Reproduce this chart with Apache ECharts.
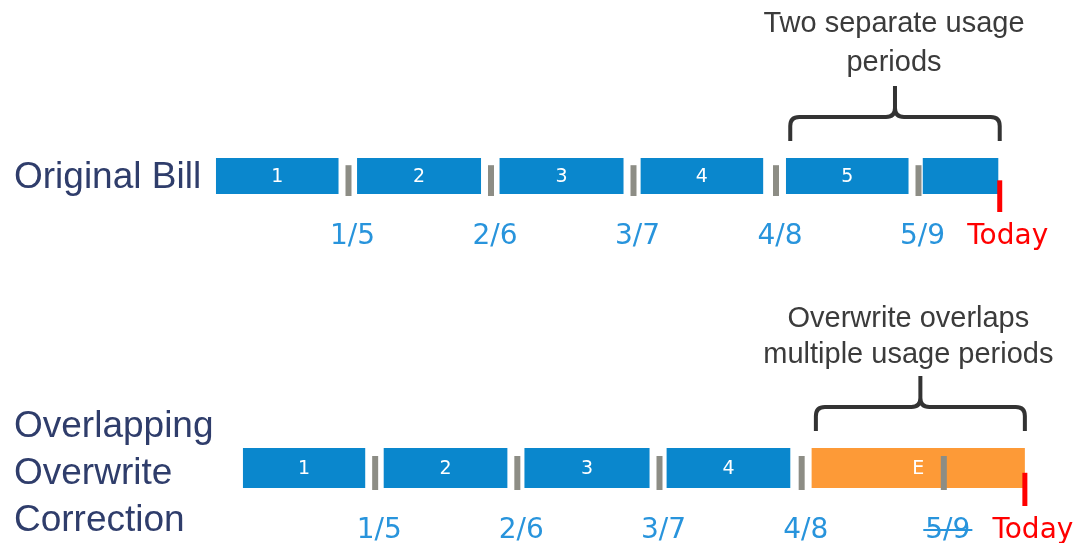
<!DOCTYPE html>
<html>
<head>
<meta charset="utf-8">
<title>Overlapping overwrite correction</title>
<script src="https://cdn.jsdelivr.net/npm/echarts@6/dist/echarts.min.js"></script>
<style>
html, body { margin: 0; padding: 0; background: #fff; }
#timeline { width: 1088px; height: 543px; }
</style>
</head>
<body>
<div id="timeline"></div>
<script>
// x is measured in bill cycles: 1..5 are the read dates
var billDates = ['1/5', '2/6', '3/7', '4/8', '5/9'];
var billBoundaries = [1, 2, 3, 4, 5];
var today = 5.57;

var originalLabels = ['1', '2', '3', '4', '5', ''];
var originalStarts = [0.07, 1.06, 2.06, 3.05, 4.07, 5.03];
var originalEnds   = [0.93, 1.93, 2.93, 3.91, 4.93, 5.56];

var correctedLabels = ['1', '2', '3', '4'];
var correctedStarts = [0.07, 1.06, 2.05, 3.05];
var correctedEnds   = [0.93, 1.93, 2.93, 3.92];

var overwriteLabels = ['E'];
var overwriteStarts = [4.07];
var overwriteEnds   = [5.57];

// read dates crossed out on the corrected bill
var voidedDates = ['5/9'];

var braceSpans = [[4.1, 5.57], [4.1, 5.57]];
var braceNotes = ['Two separate usage\nperiods', 'Overwrite overlaps\nmultiple usage periods'];
var rowTitles = ['Original Bill', 'Overlapping\nOverwrite\nCorrection'];

var BLUE = '#0a87cd', ORANGE = '#fd9a37', GREY = '#8d8d85', RED = '#ff0000';
var DATE_BLUE = '#2894dc';
var DATE_FONT = '28px "DejaVu Sans"';
var TITLE_FONT = '37px "Liberation Sans"';
var NOTE_FONT = '29px "Liberation Sans"';
// note placement relative to the brace tip, per row
var noteLayout = [{ dx: -1, dy: -74, lh: 39 }, { dx: -12, dy: -70, lh: 36 }];

var measureCtx = document.createElement('canvas').getContext('2d');
function textWidth(text, font) {
    measureCtx.font = font;
    return measureCtx.measureText(text).width;
}

function spans(starts, ends) {
    return starts.map(function (s, i) { return [s, ends[i]]; });
}

function textEl(text, x, y, fill, font, extra) {
    var style = {
        text: text, x: x, y: y, fill: fill, font: font,
        align: 'center', verticalAlign: 'middle',
        textAlign: 'center', textVerticalAlign: 'middle'
    };
    if (extra) { for (var k in extra) style[k] = extra[k]; }
    return { type: 'text', style: style };
}

function barRenderer(labels, color) {
    return function (params, api) {
        var cs = params.coordSys;
        var x0 = api.coord([api.value(0), 0])[0];
        var x1 = api.coord([api.value(1), 0])[0];
        return {
            type: 'group',
            children: [
                { type: 'rect', shape: { x: x0, y: cs.y, width: x1 - x0, height: cs.height }, style: { fill: color } },
                textEl(labels[params.dataIndex], (x0 + x1) / 2, cs.y + cs.height / 2 + 1, '#fff', '19px "DejaVu Sans"')
            ]
        };
    };
}

function boundaryRenderer(voided) {
    return function (params, api) {
        var cs = params.coordSys;
        var x = api.coord([api.value(0), 0])[0];
        var date = billDates[params.dataIndex];
        var ly = cs.y + cs.height + 43;
        var kids = [
            { type: 'rect', shape: { x: x - 3, y: cs.y + cs.height * 0.2, width: 6, height: cs.height * 0.8 + 2 }, style: { fill: GREY } },
            textEl(date, x + 4, ly, DATE_BLUE, DATE_FONT)
        ];
        if (voided.indexOf(date) >= 0) {
            var w = textWidth(date, DATE_FONT) / 2 + 2;
            kids.push({ type: 'line', shape: { x1: x + 4 - w, y1: ly - 1, x2: x + 4 + w, y2: ly - 1 }, style: { stroke: DATE_BLUE, lineWidth: 2 } });
        }
        return { type: 'group', children: kids };
    };
}

function todayRenderer(params, api) {
    var cs = params.coordSys;
    var x = api.coord([api.value(0), 0])[0];
    return {
        type: 'group',
        children: [
            { type: 'rect', shape: { x: x - 2.5, y: cs.y + cs.height * 0.62, width: 5, height: cs.height * 0.38 + 18 }, style: { fill: RED } },
            textEl('Today', x + 8, cs.y + cs.height + 43, RED, DATE_FONT)
        ]
    };
}

function braceRenderer(row) {
    return function (params, api) {
        var cs = params.coordSys;
        var xl = api.coord([api.value(0), 0])[0];
        var xr = api.coord([api.value(1), 0])[0];
        var xm = (xl + xr) / 2;
        var hY = cs.y - 41, endY = hY + 24, tipY = hY - 31, r = 9;
        var d = 'M' + xl + ' ' + endY +
            ' L' + xl + ' ' + (hY + r) +
            ' Q' + xl + ' ' + hY + ' ' + (xl + r) + ' ' + hY +
            ' L' + (xm - r) + ' ' + hY +
            ' Q' + xm + ' ' + hY + ' ' + xm + ' ' + (hY - r) +
            ' L' + xm + ' ' + tipY +
            ' M' + xm + ' ' + (hY - r) +
            ' Q' + xm + ' ' + hY + ' ' + (xm + r) + ' ' + hY +
            ' L' + (xr - r) + ' ' + hY +
            ' Q' + xr + ' ' + hY + ' ' + xr + ' ' + (hY + r) +
            ' L' + xr + ' ' + endY;
        var nl = noteLayout[row];
        return {
            type: 'group',
            children: [
                { type: 'path', shape: { pathData: d }, style: { fill: null, stroke: '#333', lineWidth: 4 } },
                textEl(braceNotes[row], xm + nl.dx, hY + nl.dy, '#3b3b3b', NOTE_FONT, { lineHeight: nl.lh })
            ]
        };
    };
}

var option = {
    animation: false,
    grid: [
        { left: 206, top: 158, width: 855, height: 36 },
        { left: 233, top: 448, width: 853, height: 40 }
    ],
    xAxis: [
        { gridIndex: 0, type: 'value', min: 0, max: 6, show: false },
        { gridIndex: 1, type: 'value', min: 0, max: 6, show: false }
    ],
    yAxis: [
        { gridIndex: 0, type: 'value', min: 0, max: 1, show: false },
        { gridIndex: 1, type: 'value', min: 0, max: 1, show: false }
    ],
    graphic: [
        { type: 'text', left: 14, top: 159, style: { text: rowTitles[0], fill: '#2f3d6b', font: TITLE_FONT } },
        { type: 'text', left: 14, top: 403, style: { text: rowTitles[1], fill: '#2f3d6b', font: TITLE_FONT, lineHeight: 47 } }
    ],
    series: [
        { type: 'custom', xAxisIndex: 0, yAxisIndex: 0, clip: false, renderItem: barRenderer(originalLabels, BLUE), data: spans(originalStarts, originalEnds) },
        { type: 'custom', xAxisIndex: 0, yAxisIndex: 0, clip: false, renderItem: boundaryRenderer([]), data: billBoundaries.map(function (b) { return [b]; }) },
        { type: 'custom', xAxisIndex: 0, yAxisIndex: 0, clip: false, renderItem: todayRenderer, data: [[today]] },
        { type: 'custom', xAxisIndex: 0, yAxisIndex: 0, clip: false, renderItem: braceRenderer(0), data: [braceSpans[0]] },

        { type: 'custom', xAxisIndex: 1, yAxisIndex: 1, clip: false, renderItem: barRenderer(correctedLabels, BLUE), data: spans(correctedStarts, correctedEnds) },
        { type: 'custom', xAxisIndex: 1, yAxisIndex: 1, clip: false, renderItem: barRenderer(overwriteLabels, ORANGE), data: spans(overwriteStarts, overwriteEnds) },
        { type: 'custom', xAxisIndex: 1, yAxisIndex: 1, clip: false, renderItem: boundaryRenderer(voidedDates), data: billBoundaries.map(function (b) { return [b]; }) },
        { type: 'custom', xAxisIndex: 1, yAxisIndex: 1, clip: false, renderItem: todayRenderer, data: [[today]] },
        { type: 'custom', xAxisIndex: 1, yAxisIndex: 1, clip: false, renderItem: braceRenderer(1), data: [braceSpans[1]] }
    ]
};

var myChart = echarts.init(document.getElementById('timeline'));
myChart.setOption(option);
</script>
</body>
</html>
